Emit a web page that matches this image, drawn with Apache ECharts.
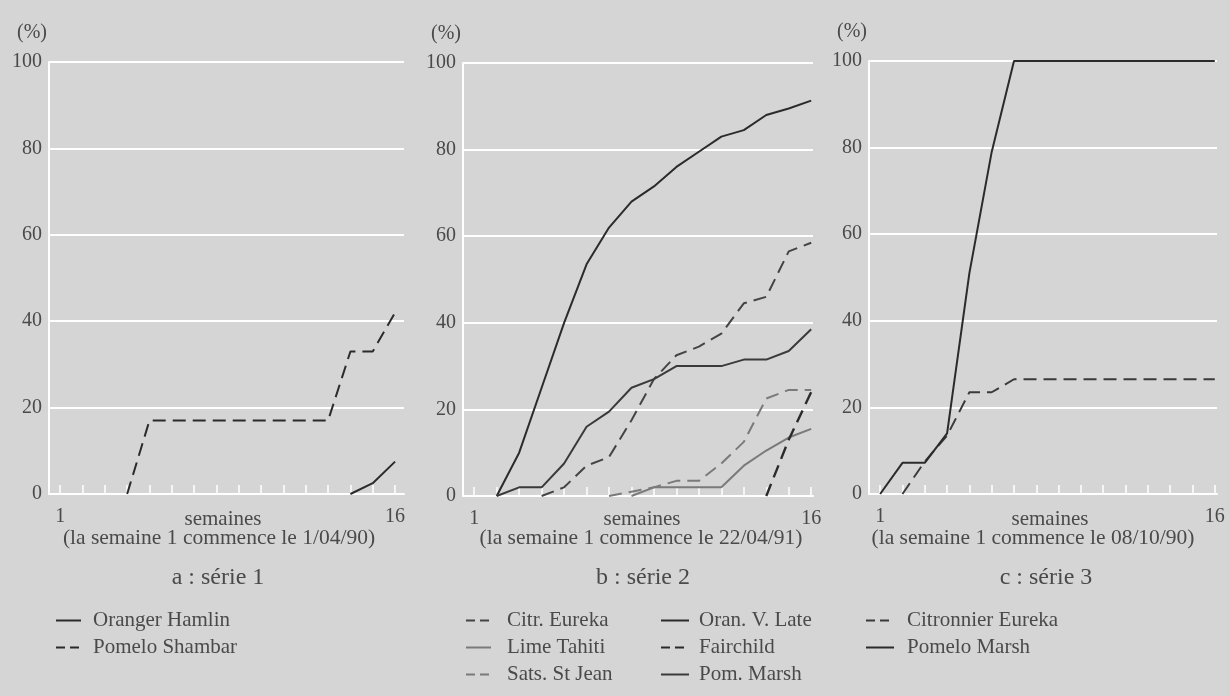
<!DOCTYPE html>
<html><head><meta charset="utf-8">
<script src="https://cdn.jsdelivr.net/npm/echarts@6/dist/echarts.min.js"></script>
<style>html,body{margin:0;padding:0;background:#d5d5d5}#c{width:1229px;height:696px}</style>
</head><body><div id="c"></div>
<script>
const weeks = [1,2,3,4,5,6,7,8,9,10,11,12,13,14,15,16];
const xLabelWeeks = [1,16];
const yTicks = [0,20,40,60,80,100];

// a : série 1
const orangerHamlin  = [null,null,null,null,null,null,null,null,null,null,null,null,null,0,2.5,7.5];
const pomeloShambar  = [null,null,null,0,17,17,17,17,17,17,17,17,17,33,33,42];
// b : série 2
const citrEureka     = [null,null,null,0,2,7,9,17.5,27,32.5,34.5,37.5,44.5,46,56.5,58.5];
const limeTahiti     = [null,null,null,null,null,null,null,0,2,2,2,2,7,10.5,13.5,15.5];
const satsStJean     = [null,null,null,null,null,null,0,1,2,3.5,3.5,7.5,12.5,22.5,24.5,24.5];
const oranVLate      = [null,0,10,25,40,53.5,62,68,71.5,76,79.5,83,84.5,88,89.5,91.3];
const fairchild      = [null,null,null,null,null,null,null,null,null,null,null,null,null,0,13,24];
const pomMarsh       = [null,0,2,2,7.5,16,19.5,25,27,30,30,30,31.5,31.5,33.5,38.5];
// c : série 3
const citronnierEureka = [null,0,7.5,13.5,23.5,23.5,26.5,26.5,26.5,26.5,26.5,26.5,26.5,26.5,26.5,26.5];
const pomeloMarsh      = [0,7.2,7.2,14,51,79,100,100,100,100,100,100,100,100,100,100];

const panelTitles = ['a : série 1','b : série 2','c : série 3'];
const panelSubtitles = ['(la semaine 1 commence le 1/04/90)','(la semaine 1 commence le 22/04/91)','(la semaine 1 commence le 08/10/90)'];
const xAxisName = 'semaines';
const yAxisName = '(%)';

const FONT = '"Liberation Serif", "DejaVu Serif", serif';
const TXT = '#4a4a4a';
const DARK = '#2b2b2b';
const GREY = '#7a7a7a';
const DASH = [13,7];

const grids = [
  {left:49, top:62, width:355, height:432},
  {left:463, top:63, width:350, height:433},
  {left:869, top:61, width:348, height:433}
];
const xMax = [16.4, 16.08, 16.1];

function xAxisFor(i){
  return {
    type:'value', gridIndex:i, min:0.5, max:xMax[i],
    axisLine:{show:true, lineStyle:{color:'#ffffff', width:2}},
    axisTick:{show:true, inside:true, length:9, customValues:weeks, lineStyle:{color:'#ffffff', width:1.5}},
    axisLabel:{customValues:xLabelWeeks, color:TXT, fontSize:20, fontFamily:FONT, margin:13},
    splitLine:{show:false}
  };
}
function yAxisFor(i){
  return {
    type:'value', gridIndex:i, min:0, max:100, interval:20,
    axisLine:{show:true, lineStyle:{color:'#ffffff', width:2}},
    axisTick:{show:false},
    axisLabel:{color:TXT, fontSize:20, fontFamily:FONT, margin:7},
    splitLine:{show:true, lineStyle:{color:'#ffffff', width:2}},
    name:yAxisName, nameLocation:'end', nameGap:19,
    nameTextStyle:{color:TXT, fontSize:20, fontFamily:FONT, align:'right', padding:[0,2,0,0]}
  };
}
function pairs(arr){ return weeks.map((w,k)=>[w, arr[k]]); }
function line(name, arr, gi, color, dashed, width){
  return {
    name:name, type:'line', xAxisIndex:gi, yAxisIndex:gi,
    data:pairs(arr), symbol:'none', connectNulls:false, silent:true,
    lineStyle:{color:color, width:width||2, type: dashed ? DASH : 'solid'},
    itemStyle:{color:color}
  };
}

const series = [
  line('Oranger Hamlin', orangerHamlin, 0, DARK, false),
  line('Pomelo Shambar', pomeloShambar, 0, DARK, true),
  line('Citr. Eureka', citrEureka, 1, '#444444', true),
  line('Lime Tahiti', limeTahiti, 1, GREY, false),
  line('Sats. St Jean', satsStJean, 1, GREY, true),
  line('Oran. V. Late', oranVLate, 1, DARK, false),
  line('Fairchild', fairchild, 1, DARK, true, 2.4),
  line('Pom. Marsh', pomMarsh, 1, '#3a3a3a', false),
  line('Citronnier Eureka', citronnierEureka, 2, '#3a3a3a', true),
  line('Pomelo Marsh', pomeloMarsh, 2, DARK, false)
];

function legendFor(left, names, dashedNames, itemWidth, pad){
  return {
    show:true, orient:'vertical', left:left, top:610, itemGap:6, padding:0,
    itemWidth:itemWidth, itemHeight:14, selectedMode:false,
    itemStyle:{opacity:0, borderWidth:0},
    textStyle:{color:TXT, fontSize:21, fontFamily:FONT, padding:[0,0,0,pad]},
    data: names.map(n => dashedNames.indexOf(n) >= 0 ? {name:n, lineStyle:{type:[9,5]}} : {name:n})
  };
}
const dashedNames = ['Pomelo Shambar','Citr. Eureka','Sats. St Jean','Fairchild','Citronnier Eureka'];

const titleX = [218, 643, 1046];
const subX = [219, 641, 1033];
const nameX = [223, 642, 1050];
const graphic = [];
for (let i=0;i<3;i++){
  graphic.push({type:'text', x:nameX[i], y:519, silent:true,
    style:{text:xAxisName, align:'center', verticalAlign:'middle', fill:TXT, font:'21px '+FONT}});
  graphic.push({type:'text', x:subX[i], y:538, silent:true,
    style:{text:panelSubtitles[i], align:'center', verticalAlign:'middle', fill:TXT, font:'21.5px '+FONT}});
  graphic.push({type:'text', x:titleX[i], y:578, silent:true,
    style:{text:panelTitles[i], align:'center', verticalAlign:'middle', fill:TXT, font:'24px '+FONT}});
}

const chart = echarts.init(document.getElementById('c'), null, {renderer:'canvas'});
chart.setOption({
  backgroundColor:'#d5d5d5',
  animation:false,
  grid: grids,
  xAxis: [0,1,2].map(xAxisFor),
  yAxis: [0,1,2].map(yAxisFor),
  legend: [
    legendFor(55, ['Oranger Hamlin','Pomelo Shambar'], dashedNames, 25, 7),
    legendFor(465, ['Citr. Eureka','Lime Tahiti','Sats. St Jean'], dashedNames, 25, 11),
    legendFor(660, ['Oran. V. Late','Fairchild','Pom. Marsh'], dashedNames, 28, 5),
    legendFor(865, ['Citronnier Eureka','Pomelo Marsh'], dashedNames, 28, 8)
  ],
  graphic: graphic,
  series: series
});
</script></body></html>
